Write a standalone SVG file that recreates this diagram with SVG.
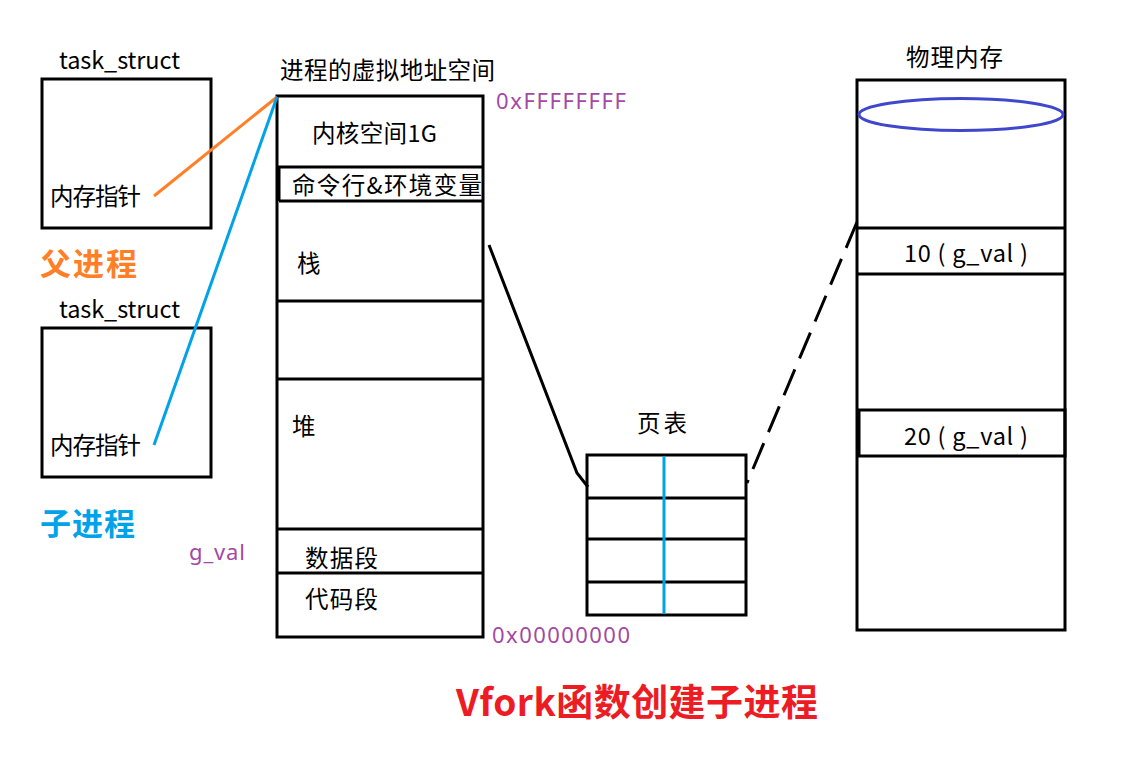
<svg xmlns="http://www.w3.org/2000/svg" width="1131" height="763" viewBox="0 0 1131 763">
<style>
.box{fill:none;stroke:#000;stroke-width:3}
.t{font-family:"Noto Sans CJK SC","Noto Sans",sans-serif;font-size:23.5px;fill:#000}
.p{font-family:"Noto Sans","Noto Sans CJK SC",sans-serif;font-size:22px;fill:#A349A4}
.b{font-family:"Noto Sans CJK SC",sans-serif;font-weight:bold;font-size:31px}
</style>
<rect width="1131" height="763" fill="#fff"/>
<g id="parent-task">
<text class="t" x="59" y="69" textLength="121">task_struct</text>
<rect class="box" x="42" y="79" width="169" height="149"/>
<text class="t" x="50" y="205" textLength="91">内存指针</text>
<text class="b" x="40" y="275" fill="#FF7F27" textLength="97">父进程</text>
</g>
<g id="child-task">
<text class="t" x="59" y="318" textLength="121">task_struct</text>
<rect class="box" x="42" y="328" width="169" height="149"/>
<text class="t" x="50" y="454" textLength="91">内存指针</text>
<text class="b" x="40" y="535" fill="#00A2E8" textLength="95">子进程</text>
<text class="p" x="189" y="560" textLength="56">g_val</text>
</g>
<g id="vspace">
<text class="t" x="280" y="79" textLength="215">进程的虚拟地址空间</text>
<rect class="box" x="277" y="96" width="206" height="541"/>
<line class="box" x1="277" y1="167" x2="483" y2="167"/>
<line class="box" x1="279" y1="201" x2="483" y2="201"/>
<line class="box" x1="279" y1="167" x2="279" y2="201"/>
<line class="box" x1="277" y1="301" x2="483" y2="301"/>
<line class="box" x1="277" y1="379" x2="483" y2="379"/>
<line class="box" x1="277" y1="529" x2="483" y2="529"/>
<line class="box" x1="277" y1="573" x2="483" y2="573"/>
<text class="t" x="312" y="142" textLength="125">内核空间1G</text>
<text class="t" x="292" y="194" textLength="190">命令行&amp;环境变量</text>
<text class="t" x="297" y="272">栈</text>
<text class="t" x="292" y="435">堆</text>
<text class="t" x="305" y="567" textLength="73">数据段</text>
<text class="t" x="305" y="608" textLength="73">代码段</text>
<text class="p" x="496" y="109" textLength="130">0xFFFFFFFF</text>
<text class="p" x="492" y="643" textLength="138">0x00000000</text>
</g>
<g id="pagetable">
<text class="t" x="637" y="432" textLength="50">页表</text>
<rect class="box" x="587" y="455" width="159" height="160"/>
<line class="box" x1="587" y1="498" x2="746" y2="498"/>
<line class="box" x1="587" y1="539" x2="746" y2="539"/>
<line class="box" x1="587" y1="582" x2="746" y2="582"/>
<line x1="664" y1="456" x2="664" y2="614" stroke="#00A2E8" stroke-width="3"/>
</g>
<g id="physmem">
<text class="t" x="906" y="66" textLength="97">物理内存</text>
<rect class="box" x="857" y="80" width="208" height="550"/>
<ellipse cx="961" cy="114.5" rx="102" ry="16" fill="none" stroke="#3F48CC" stroke-width="3"/>
<line class="box" x1="857" y1="228" x2="1065" y2="228"/>
<line class="box" x1="857" y1="274" x2="1065" y2="274"/>
<text class="t" x="904" y="262" textLength="124">10 ( g_val )</text>
<rect class="box" x="859" y="410" width="206" height="46"/>
<text class="t" x="904" y="445" textLength="124">20 ( g_val )</text>
</g>
<g id="connectors" fill="none" stroke-width="3">
<line x1="154" y1="196" x2="277" y2="97" stroke="#FF7F27"/>
<line x1="154" y1="445" x2="277" y2="97" stroke="#00A2E8"/>
<polyline points="489,245 577,473 588,487" stroke="#000"/>
<line x1="857" y1="222" x2="747" y2="483" stroke="#000" stroke-dasharray="28 12"/>
</g>
<text x="456" y="716" font-family="Noto Sans CJK SC,sans-serif" font-weight="bold" font-size="37" fill="#ED1C24" textLength="362">Vfork函数创建子进程</text>
</svg>
